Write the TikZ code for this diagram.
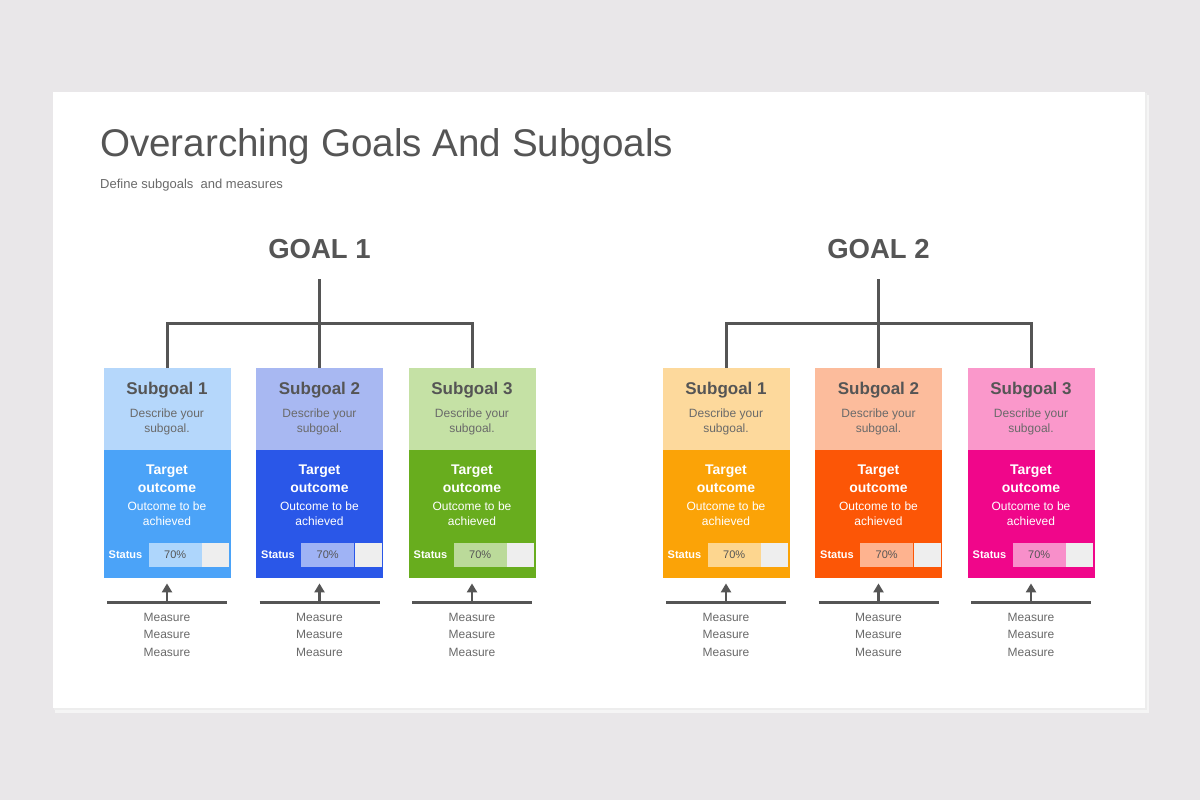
\documentclass[tikz,border=0pt]{standalone}
\usepackage{fontspec}
\setmainfont{Liberation Sans}
\usetikzlibrary{arrows.meta,positioning}

\definecolor{pagebg}{HTML}{E9E7E9}
\definecolor{ink}{HTML}{555555}
\definecolor{softink}{HTML}{6A6A6A}
\definecolor{barend}{HTML}{EEEEEE}
% goal 1
\definecolor{lt11}{HTML}{B5D7FB}\definecolor{dk11}{HTML}{4BA3F8}
\definecolor{lt12}{HTML}{A8B8F2}\definecolor{dk12}{HTML}{2A57E8}
\definecolor{lt13}{HTML}{C5E1A5}\definecolor{dk13}{HTML}{68AD1E}
% goal 2
\definecolor{lt21}{HTML}{FDD99C}\definecolor{dk21}{HTML}{FBA307}
\definecolor{lt22}{HTML}{FCBC9C}\definecolor{dk22}{HTML}{FC5606}
\definecolor{lt23}{HTML}{FA98CB}\definecolor{dk23}{HTML}{F0068A}

\begin{document}
\begin{tikzpicture}[x=1pt,y=-1pt,
    line/.style={draw=ink,line width=3pt},
    goal label/.style={font=\bfseries\fontsize{27.5}{28}\selectfont,text=ink,inner sep=0pt},
    top box/.style={minimum width=127pt,minimum height=82pt,inner sep=0pt,anchor=north},
    bot box/.style={minimum width=127pt,minimum height=128pt,inner sep=0pt,anchor=north},
    sub title/.style={font=\bfseries\fontsize{17}{20}\selectfont,text=ink,inner sep=0pt},
    sub text/.style={font=\fontsize{12}{15}\selectfont,text=softink,align=center,inner sep=0pt},
    target/.style={font=\bfseries\fontsize{14}{18}\selectfont,text=white,align=center,inner sep=0pt},
    target text/.style={font=\fontsize{12}{15}\selectfont,text=white,align=center,inner sep=0pt},
    status/.style={font=\bfseries\fontsize{11}{11}\selectfont,text=white,inner sep=0pt,anchor=west},
    bar/.style={minimum height=24pt,inner sep=0pt,anchor=west,font=\fontsize{11}{11}\selectfont,text=ink},
    measure/.style={font=\fontsize{12}{17.5}\selectfont,text=softink,align=center,inner sep=0pt}]

  \useasboundingbox (0,0) rectangle (1200,800);
  \fill[pagebg] (0,0) rectangle (1200,800);
  % card with a soft shadow
  \fill[black!4] (55,95) rectangle (1149,713);
  \fill[black!7] (54,93) rectangle (1147,710);
  \fill[white] (53,92) rectangle (1145,708);

  \node[anchor=base west,inner sep=0pt,text=ink,font=\fontsize{38.6}{39}\selectfont] (title) at (100,156) {Overarching Goals And Subgoals};
  \node[anchor=base west,inner sep=0pt,text=softink,font=\fontsize{13}{13}\selectfont] (subtitle) at (100,188) {Define subgoals\ \ and measures};

  \foreach \g/\gx in {1/319.5,2/878.5}{
    \node[goal label] (g\g) at (\gx,249) {GOAL \g};
    \foreach \n/\dx in {1/-152.5,2/0,3/152.5}{
      \pgfmathsetmacro\cx{\gx+\dx}
      \node[top box,fill=lt\g\n] (s\g\n) at (\cx,368) {};
      \node[bot box,fill=dk\g\n] (t\g\n) at (\cx,450) {};
      \node[sub title] (sn\g\n) at (\cx,390) {Subgoal \n};
      \node[sub text] (sd\g\n) at (\cx,421.5) {Describe your\\subgoal.};
      \node[target] (tn\g\n) at (\cx,479) {Target\\outcome};
      \node[target text] (td\g\n) at (\cx,513.5) {Outcome to be\\achieved};
      \node[status] (st\g\n) at (\cx-58.5,555) {Status};
      \node[bar,minimum width=53pt,fill=dk\g\n!45!white] (bl\g\n) at (\cx-18.5,555) {70\%};
      \node[bar,minimum width=27pt,fill=barend] (br\g\n) at (bl\g\n.east) {};
      % measures
      \coordinate (m\g\n) at (\cx,602);
      \draw[line] ([xshift=-60pt]m\g\n) -- ([xshift=60pt]m\g\n);
      \draw[draw=ink,line width=2.5pt,-{Triangle[length=9pt,width=10pt]},shorten >=5pt] (m\g\n) -- (t\g\n.south);
      \node[measure] (ms\g\n) at (\cx,634.5) {Measure\\Measure\\Measure};
    }
    \coordinate (r\g) at (\gx,279);
    \draw[line] (r\g) -- (s\g2.north);
    \draw[line] (s\g1.north) -- ++(0,-45) -| (s\g3.north);
  }
\end{tikzpicture}
\end{document}
